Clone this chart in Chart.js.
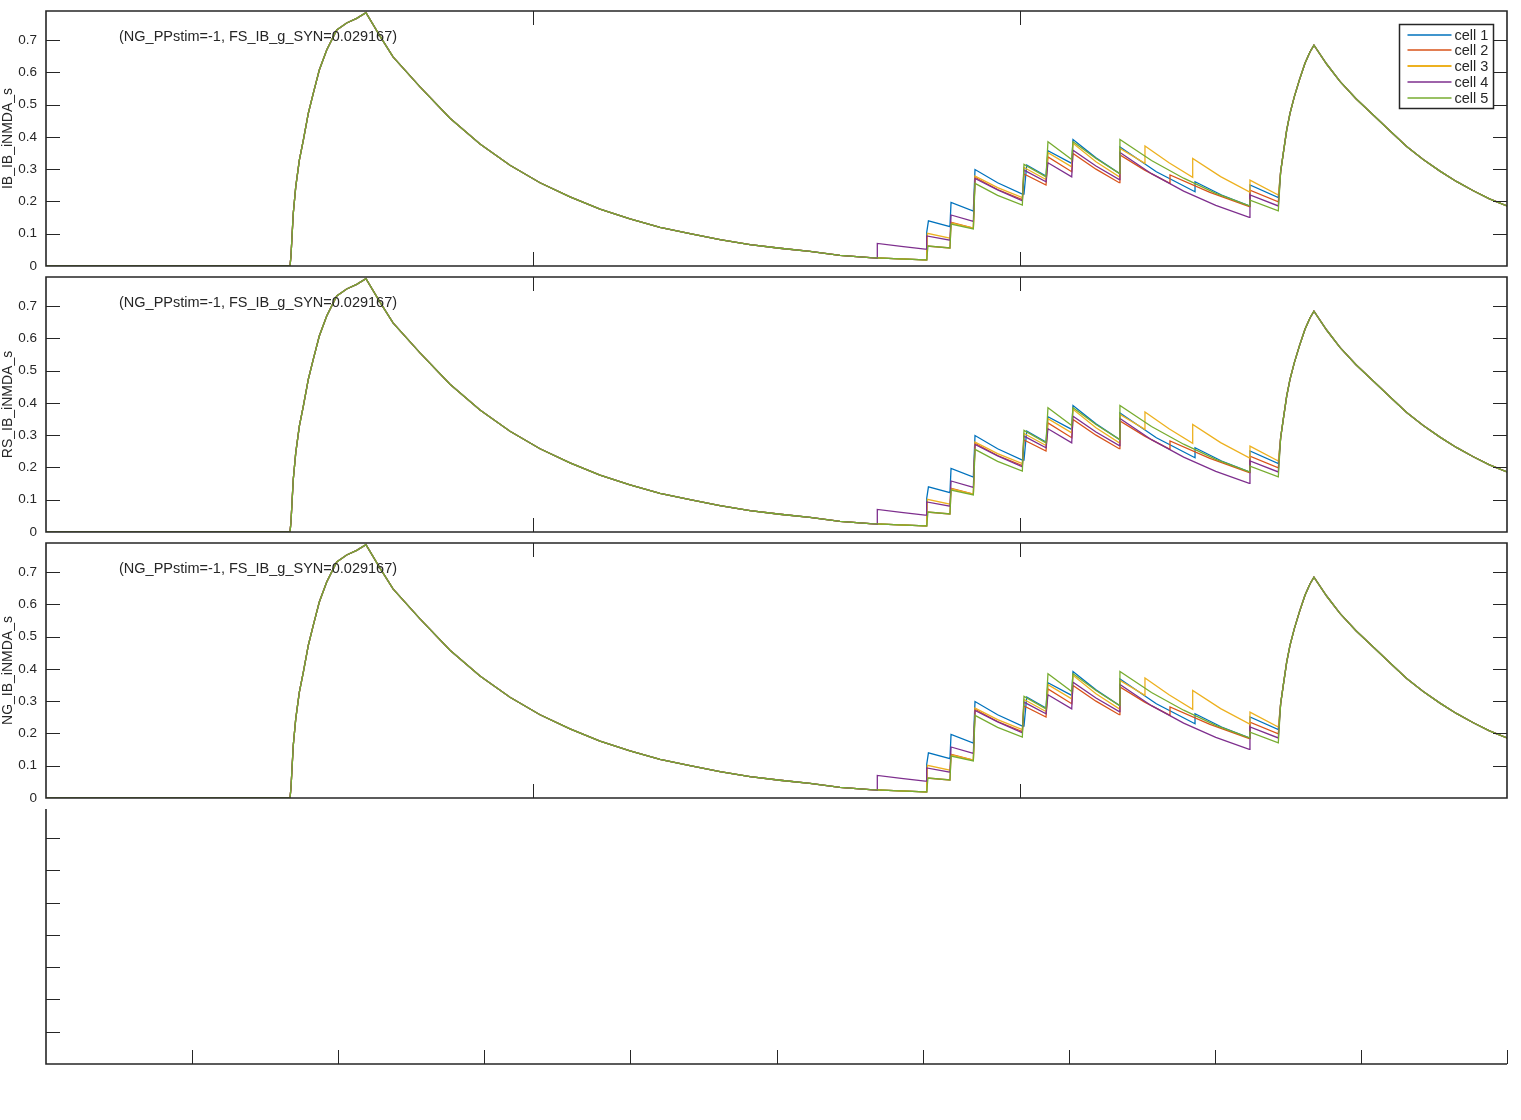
<!DOCTYPE html>
<html>
<head>
<meta charset="utf-8">
<script src="https://cdn.jsdelivr.net/npm/chart.js@4/dist/chart.umd.min.js"></script>
<style>
  body { margin: 0; background: #fff; width: 1521px; height: 1120px; overflow: hidden; }
  canvas { position: absolute; left: 0; }
</style>
</head>
<body>
<canvas id="p1" width="1521" height="275" style="top:1px"></canvas>
<canvas id="p2" width="1521" height="275" style="top:267px"></canvas>
<canvas id="p3" width="1521" height="275" style="top:533px"></canvas>
<canvas id="p4" width="1521" height="275" style="top:799px"></canvas>
<script>
// Traces of iNMDA gating variable s for 5 IB cells, time in ms.

const cellLabels = ['cell 1', 'cell 2', 'cell 3', 'cell 4', 'cell 5'];
const cellColors = ['#0072BD', '#D95319', '#EDB120', '#7E2F8E', '#77AC30'];
const panelTitles = ['IB_IB_iNMDA_s', 'RS_IB_iNMDA_s', 'NG_IB_iNMDA_s'];
const annotation = '(NG_PPstim=-1, FS_IB_g_SYN=0.029167)';

const yTicks = [0, 0.1, 0.2, 0.3, 0.4, 0.5, 0.6, 0.7];
const xTicksTop = [500, 1000];
const xTicksBottom = [150, 300, 450, 600, 750, 900, 1050, 1200, 1350, 1500];

// shared part: rest, first big rise and its decay
const sharedT = [0, 250.5, 251.5, 252.5, 253.9, 256.4, 260.1, 264.2, 269.3, 274.4, 280.6, 288.2, 298.5,
  308.7, 319.0, 328.5, 342.9, 356.3, 384.0, 414.8, 445.6, 476.4, 507.2, 538.0, 568.8, 599.6, 630.4,
  661.2, 692.0, 722.8, 753.6, 784.4, 815.2, 846.0];
const sharedS = [0, 0, 0.03, 0.087, 0.164, 0.245, 0.328, 0.39, 0.473, 0.535, 0.607, 0.669, 0.731,
  0.753, 0.767, 0.785, 0.712, 0.648, 0.555, 0.458, 0.378, 0.312, 0.258, 0.214, 0.176, 0.146, 0.120,
  0.100, 0.082, 0.066, 0.055, 0.045, 0.033, 0.026];

// cell-specific stretch
const cell1T = [876.8, 902.5, 904.2, 904.2, 906.0, 928.1, 929.2, 952.1, 953.8, 977, 1002.4, 1004.1, 1006.9,
  1026.7, 1028.7, 1053.1, 1054.4, 1078, 1101.9, 1102.6, 1140, 1179.7, 1179.7, 1207, 1235.4, 1236.1, 1265.2];
const cell1S = [0.022, 0.019, 0.019, 0.104, 0.140, 0.122, 0.197, 0.170, 0.299, 0.258, 0.223, 0.223, 0.313,
  0.279, 0.357, 0.318, 0.392, 0.335, 0.287, 0.369, 0.292, 0.230, 0.261, 0.220, 0.186, 0.251, 0.212];

const cell2T = [876.8, 902.5, 904.2, 904.2, 928.1, 929.2, 952.1, 953.8, 977, 1002.4, 1004.1, 1026.7, 1028.7,
  1053.1, 1054.4, 1078, 1101.9, 1102.6, 1128, 1154.0, 1154.0, 1195, 1235.4, 1236.1, 1265.2];
const cell2S = [0.022, 0.019, 0.019, 0.062, 0.056, 0.135, 0.117, 0.275, 0.237, 0.206, 0.285, 0.251, 0.338,
  0.292, 0.349, 0.300, 0.258, 0.344, 0.297, 0.256, 0.282, 0.228, 0.184, 0.235, 0.199];

const cell3T = [876.8, 902.5, 904.2, 905.0, 928.1, 929.2, 952.1, 953.8, 977, 1002.4, 1004.1, 1026.7, 1028.7,
  1053.1, 1054.4, 1078, 1101.9, 1102.6, 1128.3, 1128.3, 1153, 1177.3, 1177.3, 1206, 1235.4, 1236.1, 1265.2];
const cell3S = [0.022, 0.019, 0.019, 0.101, 0.086, 0.134, 0.117, 0.279, 0.243, 0.212, 0.305, 0.268, 0.351,
  0.307, 0.380, 0.323, 0.276, 0.364, 0.318, 0.372, 0.320, 0.275, 0.333, 0.277, 0.230, 0.266, 0.220];

const cell4T = [853.5, 853.5, 878, 902.5, 904.2, 904.2, 928.1, 929.2, 952.1, 953.8, 977, 1002.4, 1004.1,
  1026.7, 1028.7, 1053.1, 1054.4, 1078, 1101.9, 1102.6, 1135, 1168, 1201, 1235.4, 1236.1, 1265.2];
const cell4S = [0.024, 0.070, 0.061, 0.052, 0.052, 0.093, 0.080, 0.158, 0.138, 0.271, 0.236, 0.202, 0.297,
  0.261, 0.320, 0.276, 0.359, 0.310, 0.268, 0.352, 0.286, 0.232, 0.188, 0.151, 0.220, 0.186];

const cell5T = [876.8, 902.5, 904.2, 905.5, 928.1, 929.2, 952.1, 953.8, 977, 1002.4, 1004.1, 1026.7, 1028.7,
  1053.1, 1054.4, 1078, 1101.9, 1102.6, 1135, 1168, 1201, 1235.4, 1236.1, 1265.2];
const cell5S = [0.022, 0.019, 0.019, 0.062, 0.056, 0.130, 0.115, 0.256, 0.219, 0.189, 0.315, 0.276, 0.385,
  0.330, 0.385, 0.333, 0.287, 0.392, 0.327, 0.272, 0.225, 0.186, 0.204, 0.171];

// shared last rise and decay
const finalT = [1267.6, 1270.3, 1273.8, 1277.2, 1281.6, 1286.8, 1292.6, 1297.7, 1301.8, 1315, 1328.5, 1345,
  1362.7, 1380, 1397.0, 1414, 1431.2, 1448, 1465.4, 1482, 1500];
const finalS = [0.292, 0.349, 0.421, 0.473, 0.524, 0.576, 0.628, 0.663, 0.684, 0.625, 0.572, 0.518,
  0.468, 0.418, 0.370, 0.330, 0.294, 0.262, 0.233, 0.208, 0.186];

const cellT = [cell1T, cell2T, cell3T, cell4T, cell5T];
const cellS = [cell1S, cell2S, cell3S, cell4S, cell5S];

const INK = '#262626';
const TICK = 14;
const FONT = '"Liberation Sans", Arial, Helvetica, sans-serif';
Chart.defaults.font.family = FONT;
Chart.defaults.color = INK;

function series(i) {
  const t = sharedT.concat(cellT[i], finalT);
  const s = sharedS.concat(cellS[i], finalS);
  return t.map((x, k) => ({ x: x, y: s[k] }));
}

// MATLAB-like box, inward ticks, annotation and legend
const framePlugin = {
  id: 'frame',
  afterDatasetsDraw(chart, args, opts) {
    const { ctx, chartArea: a } = chart;
    const x = chart.scales.x, y = chart.scales.y;
    ctx.save();
    ctx.strokeStyle = INK;
    ctx.lineWidth = 1;
    ctx.beginPath();
    opts.xTicks.forEach(v => {
      const px = Math.round(x.getPixelForValue(v)) + 0.5;
      ctx.moveTo(px, a.bottom); ctx.lineTo(px, a.bottom - TICK);
      if (opts.box) { ctx.moveTo(px, a.top); ctx.lineTo(px, a.top + TICK); }
    });
    opts.yTicks.forEach(v => {
      const py = Math.round(y.getPixelForValue(v)) + 0.5;
      ctx.moveTo(a.left, py); ctx.lineTo(a.left + TICK, py);
      if (opts.box) { ctx.moveTo(a.right, py); ctx.lineTo(a.right - TICK, py); }
    });
    ctx.stroke();
    ctx.lineWidth = 1.6;
    ctx.beginPath();
    if (opts.box) {
      ctx.rect(a.left, a.top, a.right - a.left, a.bottom - a.top);
    } else {
      ctx.moveTo(a.left, a.top); ctx.lineTo(a.left, a.bottom); ctx.lineTo(a.right, a.bottom);
    }
    ctx.stroke();

    if (opts.note) {
      ctx.fillStyle = INK;
      ctx.font = '14.5px ' + FONT;
      ctx.textBaseline = 'middle';
      ctx.textAlign = 'left';
      ctx.fillText(opts.note, a.left + 73, a.top + 26);
    }

    if (opts.legend) {
      const ds = chart.data.datasets;
      const w = 94, h = 84;
      const lx = Math.round(a.right - 14 - w) + 0.5, ly = Math.round(a.top + 13) + 0.5;
      ctx.fillStyle = '#fff';
      ctx.fillRect(lx, ly, w, h);
      ctx.lineWidth = 1.5;
      ctx.strokeStyle = INK;
      ctx.strokeRect(lx, ly, w, h);
      ctx.font = '14.5px ' + FONT;
      ctx.textBaseline = 'middle';
      ctx.textAlign = 'left';
      ds.forEach((d, i) => {
        const ry = Math.round(ly + 10 + i * 15.8);
        ctx.strokeStyle = d.borderColor;
        ctx.lineWidth = i === 2 ? 2.2 : 1.4;
        ctx.beginPath();
        ctx.moveTo(lx + 8, ry); ctx.lineTo(lx + 52, ry);
        ctx.stroke();
        ctx.fillStyle = INK;
        ctx.fillText(d.label, lx + 55, ry + 0.5);
      });
    }
    ctx.restore();
  }
};

function makePanel(id, idx) {
  const hasData = idx < 3;
  const datasets = hasData ? cellLabels.map((label, i) => ({
    label: label,
    data: series(i),
    borderColor: cellColors[i],
    backgroundColor: cellColors[i],
    borderWidth: 1.3,
    pointRadius: 0,
    tension: 0,
    fill: false,
    order: cellLabels.length - i,
  })) : [];

  return new Chart(document.getElementById(id), {
    type: 'line',
    data: { datasets },
    options: {
      responsive: false,
      devicePixelRatio: 1,
      animation: false,
      events: [],
      layout: { padding: { top: 10, bottom: 10, left: 0, right: 14 } },
      plugins: {
        legend: { display: false },
        tooltip: { enabled: false },
        frame: {
          box: hasData,
          xTicks: hasData ? xTicksTop : xTicksBottom,
          yTicks: yTicks.slice(1),
          note: hasData ? annotation : null,
          legend: idx === 0,
        },
      },
      scales: {
        x: {
          type: 'linear',
          display: false,
          min: 0,
          max: 1500,
        },
        y: {
          type: 'linear',
          min: 0,
          max: 0.79,
          afterFit: s => { s.width = 46; s.paddingTop = 0; s.paddingBottom = 0; },
          afterBuildTicks: s => { s.ticks = yTicks.map(v => ({ value: v })); },
          grid: { display: false, drawTicks: false },
          border: { display: false },
          ticks: {
            display: hasData,
            padding: 9,
            font: { size: 13.5 },
            color: INK,
            callback: v => (v === 0 ? '0' : v.toFixed(1)),
          },
          title: {
            display: hasData,
            text: hasData ? panelTitles[idx] : '',
            font: { size: 14 },
            color: INK,
            padding: 0,
          },
        },
      },
    },
    plugins: [framePlugin],
  });
}

['p1', 'p2', 'p3', 'p4'].forEach((id, i) => makePanel(id, i));
</script>
</body>
</html>
